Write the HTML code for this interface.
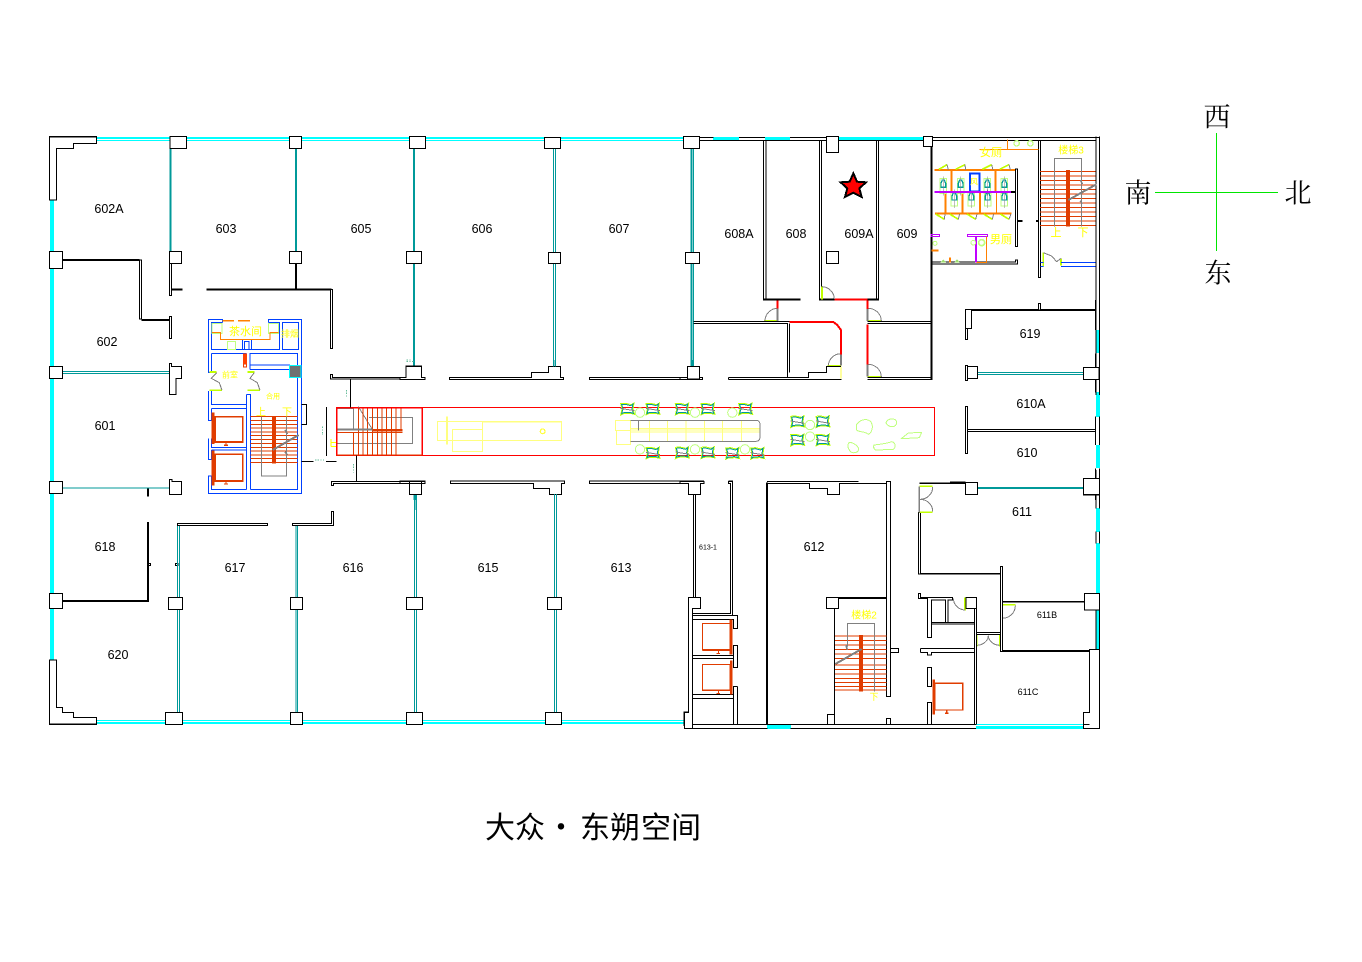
<!DOCTYPE html>
<html><head><meta charset="utf-8"><title>大众·东朔空间</title>
<style>
html,body{margin:0;padding:0;background:#fff}
svg{display:block}
.g{shape-rendering:crispEdges}
.w{fill:#fff;stroke:#000;stroke-width:3}
.n{fill:none;stroke:#000;stroke-width:3}
.t{fill:none;stroke:#009999;stroke-width:3}
.b{fill:none;stroke:#0040ff;stroke-width:3}
.r{fill:none;stroke:#e03c00;stroke-width:3}
.o{fill:none;stroke:#ff8000;stroke-width:3}
.e{fill:none;stroke:#808080;stroke-width:3}
.l{fill:none;stroke:#c0ff00;stroke-width:5}
.p{fill:none;stroke:#c0ff80;stroke-width:3}
.y{fill:none;stroke:#ffff80;stroke-width:3}
.d{fill:none;stroke:#ff0000;stroke-width:6}
.lbl{font-family:"Liberation Sans","Noto Sans CJK SC",sans-serif;font-size:12.5px;text-anchor:middle;dominant-baseline:central;fill:#000}
.yt{font-family:"Liberation Sans","Noto Sans CJK SC",sans-serif;text-anchor:middle;dominant-baseline:central;fill:#ffff00}
</style></head><body>
<svg width="1362" height="962" viewBox="0 0 1362 962" xmlns="http://www.w3.org/2000/svg">
<rect width="1362" height="962" fill="#fff"/>
<defs>
<g id="ch"><path d="M-20,-16 L-6,-17 L12,-13 L20,-18 L17,0 L22,16 L8,13 L-12,14 L-20,18 L-16,0 Z" fill="none" stroke="#c0ff00" stroke-width="3"/><path d="M-17,-13 L-6,-14 L10,-10 L17,-15 L14,0 L18,13 L7,10 L-11,11 L-17,14 L-13,0 Z" fill="none" stroke="#009999" stroke-width="3"/><path d="M-20,-2 L22,5" stroke="#808080" stroke-width="3" fill="none"/></g>
<g id="wc"><path d="M-10,-22 H10 V22 H-10 Z" fill="none" stroke="#c0ff80" stroke-width="3"/><path d="M-7,-8 L-3,-18 H3 L7,-8 V4 H-7 Z" fill="none" stroke="#009999" stroke-width="4"/><path d="M0,-28 V28" stroke="#808080" stroke-width="2"/></g>
</defs>
<g class="g">
<!-- windows -->
<g fill="#00ffff">
<rect x="97" y="137" width="73" height="4"/><rect x="187" y="137" width="102" height="4"/><rect x="302" y="137" width="107" height="4"/><rect x="426" y="137" width="118" height="4"/><rect x="561" y="137" width="122" height="4"/><rect x="713" y="137" width="26" height="3"/><rect x="765" y="137" width="25" height="3"/><rect x="839" y="137" width="84" height="3"/>
<rect x="97" y="720" width="68" height="4"/><rect x="183" y="720" width="107" height="4"/><rect x="303" y="720" width="103" height="4"/><rect x="423" y="720" width="122" height="4"/><rect x="562" y="720" width="122" height="4"/><rect x="767" y="725" width="24" height="4"/><rect x="976" y="724" width="107" height="5"/>
<rect x="50" y="200" width="4" height="52"/><rect x="50" y="268" width="4" height="99"/><rect x="50" y="378" width="4" height="104"/><rect x="50" y="493" width="4" height="100"/><rect x="50" y="608" width="4" height="52"/>
<rect x="1096" y="330" width="4" height="23"/><rect x="1096" y="392" width="4" height="25"/><rect x="1096" y="445" width="4" height="23"/><rect x="1096" y="508" width="4" height="24"/><rect x="1096" y="543" width="4" height="50"/><rect x="1096" y="610" width="4" height="40"/>
</g>
<g fill="#fff">
<rect x="97" y="139" width="73" height="1"/><rect x="187" y="139" width="102" height="1"/><rect x="302" y="139" width="107" height="1"/><rect x="426" y="139" width="118" height="1"/><rect x="561" y="139" width="122" height="1"/>
<rect x="97" y="721" width="68" height="1"/><rect x="183" y="721" width="107" height="1"/><rect x="303" y="721" width="103" height="1"/><rect x="423" y="721" width="122" height="1"/><rect x="562" y="721" width="122" height="1"/><rect x="976" y="725" width="107" height="1"/>
</g>
<!-- corridor -->
<rect x="336.5" y="407.5" width="598" height="48" fill="none" stroke="#ff0000" stroke-width="1"/>

<!-- Z1 top-left -->
<g transform="translate(40,125) scale(.33333)">
<path class="w" d="M28,35 H170 V55 H100 V70 H50 V225 H28 Z"/>
<path class="t" d="M392,70 V380 M768,70 V380 M1122,70 V380 M1122,415 V725" stroke-width="6" style="stroke-width:6"/>
<path class="t" d="M68,740 H388 M68,745 H388"/>
<rect class="w" x="390" y="35" width="50" height="35"/><rect class="w" x="748" y="35" width="37" height="35"/><rect class="w" x="1108" y="35" width="49" height="35"/>
<rect class="w" x="28" y="380" width="40" height="50"/><rect class="w" x="28" y="725" width="40" height="35"/>
<rect class="w" x="388" y="380" width="37" height="35"/><rect class="w" x="748" y="380" width="37" height="35"/><rect class="w" x="1099" y="380" width="46" height="35"/>
<rect class="w" x="388" y="415" width="7" height="97"/>
<path class="n" style="stroke-width:6" d="M68,405 H298 M305,585 H388 M395,494 H428 M500,494 H875 M768,415 V494"/>
<path class="w" d="M298,405 H305 V582 H298 Z"/>
<rect class="w" x="388" y="575" width="7" height="65"/><rect class="w" x="871" y="494" width="7" height="176"/>
<path class="w" d="M388,715 H395 V725 H425 V760 H408 V808 H388 Z"/>
</g>

<!-- Z3 core -->
<g transform="translate(200,310) scale(.33333)">
<path class="b" d="M68,38 V28 H25 V188 H34 M205,38 V28 H305 V550 H25 V498 H34 M25,243 V332 H34 M25,385 V448 H34 M68,38 H34 V118 H238 V38 H205 M34,130 V188 M34,243 V284 H140 M34,130 H140 M150,150 V130 H293 V165 M150,150 V178 M150,165 H270 M150,178 H268 M293,202 V538 H152 M140,253 H152 V538 M140,253 V538 M34,295 H140 M34,295 V332 M34,385 V412 H140 M34,420 H140 M34,420 V448 M34,498 V538 H140 M140,130 V150 H130"/>
<rect class="b" x="247" y="38" width="49" height="80"/><rect class="b" x="127" y="88" width="28" height="30"/><rect class="b" x="133" y="94" width="14" height="24"/>
<rect x="268" y="166" width="35" height="36" fill="#707070" stroke="#00ffff" stroke-width="3"/>
<path d="M68,32 H102 M114,32 H150" stroke="#ff8000" stroke-width="5" fill="none"/>
<rect class="p" x="36" y="40" width="30" height="30"/><rect class="p" x="205" y="40" width="30" height="30"/><rect class="p" x="82" y="94" width="24" height="24"/>
<path class="o" d="M36,68 H62 V88 H210 V68 H236"/>
<rect x="129" y="130" width="12" height="42" fill="#ff4000"/><rect x="131" y="163" width="8" height="8" fill="#fff" stroke="#e03c00" stroke-width="2"/>
<path class="l" d="M28,186 H50 M28,241 H66 M142,186 H163 M142,241 H180"/>
<path class="e" d="M50,188 L34,205 L58,218 L66,241 M163,188 L150,205 L172,218 L180,241"/>
<rect x="46" y="320" width="82" height="76" fill="none" stroke="#e03c00" stroke-width="5"/>
<rect x="46" y="433" width="82" height="80" fill="none" stroke="#e03c00" stroke-width="5"/>
<rect x="34" y="307" width="10" height="95" fill="#e03c00"/><rect x="34" y="422" width="10" height="104" fill="#e03c00"/>
<path d="M78,398 V406 M72,406 H84 M78,516 V524 M72,522 H84" stroke="#e03c00" stroke-width="4"/>
<path class="r" d="M151,320 H293 M151,331 H293 M151,343 H293 M151,354 H293 M151,366 H293 M151,377 H293 M151,389 H293 M151,400 H293 M151,412 H293 M151,423 H293 M151,435 H293 M151,446 H293 M151,458 H293"/>
<path class="e" d="M184,320 V498 H260 V320"/>
<rect x="216" y="320" width="12" height="140" fill="#e03c00"/>
<path d="M218,420 L296,375" stroke="#808080" stroke-width="6"/>
<path d="M255,360 L262,372 M255,425 L262,435" stroke="#808080" stroke-width="5"/>
<path class="n" d="M305,283 H320 V343 H305 M305,455 H340 M378,455 H410 M451,207 V292 M469,435 V515 M378,292 H380 V437 H378"/>
<path class="w" d="M392,193 H398 V202 H618 V168 H664 V202 H674 V207 H392 Z"/>
<path class="w" d="M394,527 V515 H628 H674 V520 H664 V553 H628 V520 H400 V527 Z"/>
<path d="M620,155 H640 M620,150 H635 M440,240 V262 M460,462 V488 M345,450 H372 M368,350 V375" stroke="#66bb99" stroke-width="3" stroke-dasharray="4 4" fill="none"/>
<path d="M642,553 V570 M647,553 V570" stroke="#009999" stroke-width="3"/>
</g>

<!-- Z8 -->
<g transform="translate(330,395) scale(.33333)">
<path class="e" d="M20,40 H70 V103 M117,68 H248 V146 H20 M85,35 L127,103"/>
<path class="r" d="M85,40 V178 M99,40 V178 M113,40 V178 M127,40 V178 M142,40 V178 M156,40 V178 M170,40 V178 M184,40 V178 M198,40 V178 M213,40 V103 M70,112 V178"/>
<path d="M20,104 H127" stroke="#808080" stroke-width="6"/>
<path d="M127,106 H218" stroke="#e03c00" stroke-width="8"/>
<path class="r" d="M20,112 H218"/>
<rect x="20" y="39" width="257" height="141" fill="none" stroke="#ff0000" stroke-width="4"/>
<path d="M20,180 H277" stroke="#e03c00" stroke-width="3"/>
<path class="n" d="M3,132 V155 M3,142 H18 M3,155 H18" style="stroke:#ffff00"/>
<rect class="y" x="322" y="80" width="135" height="56"/><rect class="y" x="458" y="80" width="237" height="56"/>
<path d="M458,80 H695" stroke="#ffff80" stroke-width="5"/>
<rect class="y" x="367" y="103" width="90" height="66"/>
<path d="M351,65 V148" stroke="#ffff80" stroke-width="5"/>
<circle cx="638" cy="109" r="7" fill="none" stroke="#ffff40" stroke-width="4"/>
</g>

<!-- Z12 walls -->
<g transform="translate(400,360) scale(.33333)">
<path class="t" d="M462,0 V19 M467,0 V19 M876,0 V19 M881,0 V19 M44,403 V450 M48,403 V450"/>
<path class="w" d="M0,52 H18 V19 H65 V52 H75 V58 H0 Z"/>
<path class="w" d="M148,52 H395 V38 H445 V19 H482 V52 H490 V58 H148 Z"/>
<path class="w" d="M568,52 H862 V19 H898 V52 H907 V58 H568 Z"/>
<path class="w" d="M0,363 H75 V371 H65 V403 H28 V371 H0 Z"/>
<path class="w" d="M151,363 H494 V371 H485 V403 H448 V386 H400 V371 H151 Z"/>
<path class="w" d="M568,363 H911 V371 H902 V403 H865 V371 H568 Z"/>
<path class="n" d="M985,363 H998 V450 M985,363 V371 H992 V450 M881,403 V450 M886,403 V450"/>
</g>
<!-- glass walls -->
<g transform="translate(400,130) scale(.33333)">
<path class="t" d="M460,50 V710 M466,50 V710 M873,50 V710 M880,50 V710"/>
</g>
<path d="M554.5,494 V712 M556.5,494 V712" stroke="#009999" stroke-width="1" fill="none"/>
<rect x="544.5" y="137.5" width="16" height="11" fill="#fff" stroke="#000"/>
<rect x="683.5" y="137.5" width="16" height="11" fill="#fff" stroke="#000"/>
<rect x="548.5" y="252.5" width="12" height="11" fill="#fff" stroke="#000"/>
<rect x="685.5" y="252.5" width="14" height="11" fill="#fff" stroke="#000"/>

<!-- Z4 furniture -->
<g transform="translate(600,395) scale(.33333)">
<rect class="y" x="47" y="76" width="45" height="30"/><rect class="y" x="50" y="106" width="42" height="42"/>
<path class="y" d="M92,100 H478 M92,105 H478 M92,111 H478 M148,76 V139 M203,76 V139 M258,76 V139 M313,76 V139 M367,76 V139 M424,76 V139"/>
<path class="e" d="M92,76 H468 Q480,76 480,90 V125 Q480,139 468,139 H92 M115,76 V106"/>
<g class="p"><circle cx="120" cy="53" r="14"/><circle cx="285" cy="53" r="14"/><circle cx="397" cy="53" r="14"/><circle cx="120" cy="163" r="14"/><circle cx="285" cy="163" r="14"/><circle cx="435" cy="163" r="14"/><circle cx="630" cy="90" r="14"/><circle cx="630" cy="125" r="14"/></g>
<use href="#ch" x="82" y="42"/><use href="#ch" x="158" y="42"/><use href="#ch" x="246" y="42"/><use href="#ch" x="323" y="42"/><use href="#ch" x="436" y="42"/>
<use href="#ch" x="158" y="174"/><use href="#ch" x="246" y="173"/><use href="#ch" x="323" y="173"/><use href="#ch" x="397" y="175"/><use href="#ch" x="472" y="175"/>
<use href="#ch" x="592" y="80"/><use href="#ch" x="668" y="80"/><use href="#ch" x="592" y="135"/><use href="#ch" x="668" y="135"/>
<path class="p" d="M770,88 C785,68 812,70 816,88 C820,102 812,116 805,118 C795,108 775,112 770,105 Z M858,84 C860,70 888,66 890,82 C890,98 868,100 858,84 Z M905,130 L925,114 L965,112 L958,128 L925,130 Z M822,150 C840,148 860,146 875,140 C888,142 888,160 878,164 C860,160 840,168 826,165 C820,160 820,155 822,150 Z M748,142 C760,142 778,155 776,165 C770,176 755,175 750,168 C742,158 742,148 748,142 Z"/>
</g>

<!-- Z2 top-right -->
<g transform="translate(680,125) scale(.33333)">
<path fill="none" stroke="#000" stroke-width="3" d="M58,37 H100 M177,37 H255 M330,37 H477 M730,37 H1258 M58,46 H440 M475,46 H730 M757,46 H1248"/>
<path class="t" d="M34,70 V382 M39,70 V382 M34,415 V725 M39,415 V725"/>
<rect class="w" x="10" y="35" width="48" height="35"/><rect class="w" x="16" y="382" width="42" height="33"/><rect class="w" x="0" y="757" width="68" height="6"/><rect class="w" x="22" y="725" width="37" height="37"/>
<path class="n" d="M250,46 V526 M258,46 V520 M418,46 V526 M425,46 V520 M590,46 V520 M596,46 V526"/>
<path d="M250,524 H362 M418,524 H464 M563,524 H596" stroke="#000" stroke-width="6"/>
<path d="M464,524 H563" stroke="#f00" stroke-width="6"/>
<rect class="w" x="440" y="35" width="35" height="47"/><rect class="w" x="440" y="380" width="35" height="35"/><rect class="w" x="730" y="35" width="27" height="30"/>
<path class="l" d="M426,485 V524 M252,588 H295 M443,722 H483 M563,588 H605 M563,756 H605"/>
<path class="e" d="M426,485 A38,38 0 0 1 463,522 M255,588 A38,38 0 0 1 293,550 M445,722 A38,38 0 0 1 483,686 M604,588 A40,38 0 0 0 563,550 M604,756 A40,38 0 0 0 563,718"/>
<path class="d" d="M293,526 V550 M329,591 H460 L472,600 L483,615 V688 M563,526 V552 M563,598 V718"/>
<path d="M293,550 V590 M483,688 V722 M563,552 V588 M563,718 V755" stroke="#808080" stroke-width="6"/>
<path d="M483,725 V760" stroke="#ffff40" stroke-width="2"/>
<path class="n" d="M40,590 H328 M40,596 H323 V757 M329,596 V742 M145,757 H385 V742 H440 V725 H483 M145,763 H485 M145,757 V763 M563,590 H753 M563,596 H753 M563,757 H753 M563,763 H757"/>
<path d="M755,65 V763" stroke="#000" stroke-width="6"/>
<rect class="w" x="1006" y="132" width="7" height="233"/>
<path class="n" d="M757,411 H1006 V405 H1013 V417 H757"/>
<path class="n" d="M1076,46 V458 H1082 V46"/>
<path d="M1013,288 H1028 M1068,288 H1076" stroke="#000" stroke-width="5"/>
<path class="n" d="M1248,35 V810 M1258,35 V810"/>
<polygon points="520,145 531,170 558,172 538,190 545,216 520,203 495,216 502,190 482,172 509,170" fill="#f00" stroke="#000" stroke-width="6"/>
</g>

<!-- Z9 right rooms -->
<g transform="translate(950,300) scale(.33333)">
<path class="t" d="M83,217 H400 M83,223 H400"/>
<path d="M83,564 H400" stroke="#009999" stroke-width="6"/>
<path d="M65,30 H437 M0,548 H46" stroke="#000" stroke-width="6"/>
<rect class="w" x="265" y="10" width="7" height="20"/>
<rect class="w" x="46" y="28" width="19" height="57"/><rect class="w" x="46" y="85" width="7" height="33"/>
<rect class="w" x="46" y="196" width="7" height="46"/><rect class="w" x="53" y="199" width="30" height="37"/>
<rect class="w" x="400" y="202" width="47" height="36"/>
<rect class="w" x="46" y="320" width="7" height="140"/>
<path class="n" d="M53,388 H437 M53,395 H437"/>
<rect class="w" x="46" y="547" width="37" height="37"/><rect class="w" x="400" y="535" width="47" height="50"/>
<path fill="none" stroke="#000" stroke-width="3" d="M437,0 V90 M449,0 V90 M437,160 V202 M449,160 V202 M437,238 V277 M449,238 V277 M437,350 V435 M449,350 V435 M437,505 V535 M449,505 V535 M437,585 V600 M449,585 V600"/>
</g>

<!-- Z7 restrooms + stairs -->
<g transform="translate(925,130) scale(.33333)">
<path class="o" d="M247,28 V58 M163,58 H340"/>
<circle cx="275" cy="40" r="8" fill="none" stroke="#c0ff80" stroke-width="4"/><circle cx="316" cy="40" r="8" fill="none" stroke="#c0ff80" stroke-width="4"/>
<path d="M28,120 H270 M80,120 V186 M212,120 V186 M62,186 V250 M113,186 V250 M165,186 V250 M30,251 H260" stroke="#ff8000" stroke-width="6" fill="none"/>
<path class="o" d="M214,186 V250"/>
<use href="#wc" x="55" y="168"/><use href="#wc" x="107" y="168"/><use href="#wc" x="187" y="168"/><use href="#wc" x="238" y="168"/>
<use href="#wc" x="88" y="206"/><use href="#wc" x="139" y="206"/><use href="#wc" x="188" y="206"/><use href="#wc" x="238" y="206"/>
<rect x="135" y="130" width="28" height="55" fill="#fff" stroke="#0040ff" stroke-width="6"/>
<path d="M28,186 H258" stroke="#c000ff" stroke-width="6"/><path d="M258,186 H272" stroke="#000" stroke-width="6"/>
<path d="M42,118 L66,104 M92,118 L120,104 M172,118 L200,104 M224,118 L252,104 M32,252 L58,268 M74,252 L100,268 M126,252 L152,268 M176,252 L202,268 M226,252 L252,268" stroke="#c0ff00" stroke-width="5"/>
<path class="e" d="M66,104 L70,120 M120,104 L122,120 M200,104 L204,120 M252,104 L256,120 M58,268 L60,252 M100,268 L104,252 M152,268 L156,252 M202,268 L206,252 M252,268 L258,252"/>
<rect x="18" y="313" width="26" height="6" fill="none" stroke="#c000ff" stroke-width="3"/><rect x="128" y="313" width="60" height="7" fill="none" stroke="#c000ff" stroke-width="3"/>
<path d="M153,320 V398" stroke="#c000ff" stroke-width="6"/>
<path class="o" d="M185,320 V398 H155"/>
<circle cx="170" cy="338" r="9" fill="none" stroke="#c0ff80" stroke-width="5"/><circle cx="145" cy="338" r="7" fill="none" stroke="#c0ff80" stroke-width="3"/><circle cx="30" cy="340" r="6" fill="none" stroke="#c0ff80" stroke-width="3"/>
<path d="M20,362 H40 M75,382 V398" stroke="#ff8000" stroke-width="6"/>
<polygon points="46,398 55,388 64,398" fill="#a0e070"/><polygon points="87,398 96,388 105,398" fill="#a0e070"/>
<path class="r" d="M345,125 H512 M345,138 H512 M345,152 H512 M345,165 H512 M345,179 H512 M345,192 H512 M345,206 H512 M345,219 H512 M345,233 H512 M345,246 H512 M345,260 H512 M345,273 H512 M345,287 H512"/>
<path class="e" d="M388,290 V85 H470 V290"/>
<rect x="423" y="120" width="12" height="170" fill="#e03c00"/>
<path d="M430,210 L514,163" stroke="#808080" stroke-width="6"/>
<path d="M466,150 L472,162 M466,212 L472,222" stroke="#808080" stroke-width="5"/>
<path d="M355,367 V410 M408,385 V407" stroke="#c0ff00" stroke-width="5"/>
<path class="e" d="M355,368 L380,378 L395,395 L408,385"/>
<path class="b" d="M408,397 H512 M408,410 H512 M347,397 H356 M347,410 H356"/>
</g>

<!-- Z5 bottom right -->
<g transform="translate(680,470) scale(.33333)">
<path class="n" d="M40,73 V382 M47,73 V382"/>
<path class="w" d="M0,35 H72 V40 H62 V73 H25 V40 H0 Z"/>
<path class="w" d="M25,382 H62 V415 H37 V775 H13 V727 H25 Z"/>
<path class="n" d="M145,35 H158 V436 M145,35 V40 H152 V430 H37 M37,436 H173 V476 H160 V448 H37 M37,556 H160 M37,566 H160 M37,673 H160 M37,685 H160 M173,649 H160 V763 M173,649 V763"/>
<rect class="w" x="160" y="526" width="13" height="67"/>
<rect x="67" y="460" width="83" height="80" fill="none" stroke="#e03c00" stroke-width="3"/><rect x="67" y="583" width="83" height="78" fill="none" stroke="#e03c00" stroke-width="3"/>
<path d="M67,540 H150 M67,661 H150" stroke="#e03c00" stroke-width="5"/>
<rect x="148" y="448" width="10" height="105" fill="#e03c00"/><rect x="150" y="572" width="8" height="102" fill="#e03c00"/>
<path d="M115,543 V550 M110,550 H120 M115,663 V670 M110,670 H120" stroke="#e03c00" stroke-width="3"/>
<path class="n" d="M37,763 H262 M332,763 H888 M1210,763 H1228 M37,775 H262 M332,775 H888 M1210,775 H1258"/>
<path d="M261,38 V763" stroke="#000" stroke-width="5"/>
<path class="n" d="M261,35 H535 M261,40 H388 V55 H442 V73 H478 V40 H620 M261,763 H442 V733 H463 M463,416 V763"/>
<rect class="w" x="620" y="35" width="12" height="645"/>
<rect class="w" x="620" y="745" width="12" height="18"/><rect class="w" x="632" y="535" width="24" height="12"/>
<path d="M475,384 H620" stroke="#000" stroke-width="5"/>
<rect class="w" x="439" y="382" width="36" height="34"/>
<path class="r" d="M465,498 H620 M465,511 H620 M465,525 H620 M465,538 H620 M465,552 H620 M465,565 H620 M465,585 H620 M465,598 H620 M465,612 H620 M465,625 H620 M465,638 H620 M465,650 H620 M465,660 H620"/>
<path class="e" d="M502,530 V460 H583 V665"/>
<rect x="537" y="495" width="12" height="170" fill="#e03c00"/>
<path d="M466,582 L545,537" stroke="#808080" stroke-width="6"/>
<path d="M498,525 L502,540" stroke="#808080" stroke-width="5"/>
<path d="M718,40 H856 M716,311 H962 M968,395 H1213 M968,543 H1228" stroke="#000" stroke-width="5"/>
<path d="M893,54 H1210" stroke="#009999" stroke-width="6"/>
<rect class="w" x="856" y="38" width="37" height="36"/>
<rect class="w" x="1210" y="25" width="48" height="49"/>
<rect class="w" x="1213" y="370" width="45" height="50"/>
<rect class="w" x="716" y="127" width="6" height="185"/>
<path class="l" d="M718,49 H758 M718,127 H758 M855,382 V422 M968,404 H1006 M890,495 V530 M960,495 V530"/>
<path d="M718,49 V127 M965,404 V445" stroke="#808080" stroke-width="5"/>
<path class="e" d="M758,51 A38,36 0 0 1 720,88 A38,36 0 0 1 758,125 M820,385 A36,36 0 0 0 855,420 M1006,406 A40,38 0 0 1 966,445 M892,526 A36,30 0 0 0 925,496 A36,30 0 0 0 958,526"/>
<rect class="w" x="962" y="290" width="6" height="255"/>
<path class="w" d="M715,370 H722 V382 H818 V390 H804 V457 H797 V390 H754 V502 H742 V386 H715 Z"/>
<rect class="w" x="858" y="382" width="32" height="34"/>
<path class="n" d="M754,457 H884 M754,462 H884 M884,416 V763 M890,416 V763 M890,487 H962 M890,493 H962 M722,535 H884 M722,547 H742 V555 H754 V547 H884 M722,535 V547"/>
<rect class="w" x="742" y="592" width="12" height="58"/><rect class="w" x="742" y="697" width="12" height="66"/>
<rect x="765" y="640" width="83" height="80" fill="none" stroke="#e03c00" stroke-width="4"/>
<rect x="757" y="628" width="8" height="105" fill="#e03c00"/>
<path d="M800,722 V728 M795,730 H805" stroke="#e03c00" stroke-width="4"/>
<path class="w" d="M1258,538 H1228 V728 H1210 V775 H1258 Z" style="fill:none"/>
<path class="n" d="M1248,0 V25 M1258,0 V25 M1248,74 V115 M1258,74 V115 M1248,185 V220 M1258,185 V220 M1248,420 V538 M1258,420 V538"/>
</g>

<!-- Z6 bottom left -->
<g transform="translate(40,470) scale(.33333)">
<path class="w" d="M28,570 H50 V712 H68 V727 H100 V742 H170 V763 H28 Z"/>
<path d="M68,54 H388" stroke="#009999" stroke-width="4"/>
<path d="M324,55 V80 M324,156 V393 H68" stroke="#000" stroke-width="6" fill="none"/>
<rect class="w" x="28" y="35" width="40" height="35"/><rect class="w" x="28" y="370" width="40" height="45"/>
<path class="w" d="M388,28 H396 V35 H425 V73 H388 Z"/>
<rect class="n" x="324" y="280" width="8" height="7"/><rect class="n" x="406" y="280" width="8" height="7"/>
<path class="t" d="M413,166 V727 M418,166 V727 M768,166 V727 M772,166 V727 M1124,74 V727 M1129,74 V727"/>
<rect class="w" x="412" y="160" width="271" height="6"/>
<path class="w" d="M757,160 H875 V124 H881 V166 H757 Z"/>
<rect class="w" x="385" y="382" width="43" height="36"/><rect class="w" x="751" y="382" width="37" height="36"/><rect class="w" x="1099" y="382" width="49" height="36"/>
<rect class="w" x="376" y="727" width="52" height="36"/><rect class="w" x="751" y="727" width="37" height="36"/><rect class="w" x="1099" y="727" width="49" height="36"/>
<rect class="w" x="1108" y="35" width="37" height="38"/>
<path class="w" d="M875,35 H1155 V40 H881 V46 H875 Z" style="fill:none"/>
</g>

<!-- 615/613 bottom columns -->
<rect x="545.5" y="712.5" width="16" height="12" fill="#fff" stroke="#000"/>
<rect x="547.5" y="597.5" width="14" height="12" fill="#fff" stroke="#000"/>
<path d="M684,726 V712 H688" fill="none" stroke="#000"/>
<!-- top/bottom outer lines -->
<path d="M49.5,137 H97 M49.5,724 H97 M1099.5,137 V140 M1099.5,650 V728" stroke="#000" fill="none"/>
<!-- compass -->
<path d="M1216.5,133 V251 M1155,192.5 H1278" stroke="#00e600" stroke-width="1" fill="none"/>
</g>

<!-- room labels -->
<g class="lbl">
<text x="109" y="209">602A</text><text x="226" y="229">603</text><text x="361" y="229">605</text><text x="482" y="229">606</text><text x="619" y="229">607</text>
<text x="739" y="234">608A</text><text x="796" y="234">608</text><text x="859" y="234">609A</text><text x="907" y="234">609</text>
<text x="107" y="342">602</text><text x="105" y="426">601</text><text x="105" y="547">618</text><text x="235" y="568">617</text><text x="353" y="568">616</text><text x="488" y="568">615</text><text x="621" y="568">613</text>
<text x="814" y="547">612</text><text x="118" y="655">620</text><text x="1022" y="512">611</text><text x="1030" y="334">619</text><text x="1031" y="404">610A</text><text x="1027" y="453">610</text>
</g>
<text class="lbl" x="1047" y="615" style="font-size:9px">611B</text>
<text class="lbl" x="1028" y="692" style="font-size:9px">611C</text>
<text class="lbl" x="708" y="548" style="font-size:7px">613-1</text>
<!-- yellow labels -->
<g class="yt">
<text x="245.5" y="332" font-size="11">茶水间</text><text x="290" y="334" font-size="9">排烟</text>
<text x="991" y="153" font-size="11">女厕</text><text x="1001" y="240" font-size="11">男厕</text>
<text x="1071" y="151" font-size="10">楼梯3</text><text x="1056" y="233" font-size="11">上</text><text x="1083" y="233" font-size="11">下</text>
<text x="864" y="616" font-size="10">楼梯2</text><text x="874" y="697" font-size="9">下</text>
<text x="261" y="413" font-size="10">上</text><text x="287" y="413" font-size="10">下</text>
<text x="230" y="375" font-size="8">前室</text><text x="273" y="397" font-size="7">合用</text>
<text x="974" y="182" font-size="8">风</text>
</g>
<!-- title & compass -->
<g font-family="'WenQuanYi Zen Hei','Noto Sans CJK SC',sans-serif" font-size="30" fill="#000">
<text x="485 515" y="838">大众</text>
<text x="561" y="838" text-anchor="middle">·</text>
<text x="580 610 641 671" y="838">东朔空间</text>
</g>
<g font-family="'Noto Serif CJK SC','Liberation Serif',serif" font-size="27" fill="#000" text-anchor="middle" dominant-baseline="central">
<text x="1217" y="115">西</text><text x="1138" y="191">南</text><text x="1298" y="191">北</text><text x="1218" y="271">东</text>
</g>
</svg>
</body></html>
